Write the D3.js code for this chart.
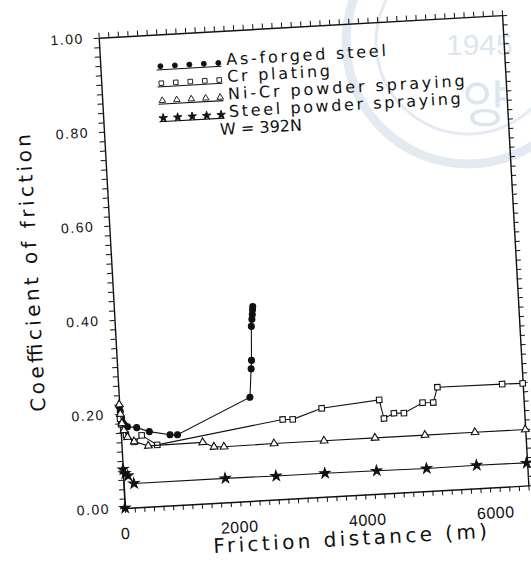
<!DOCTYPE html>
<html>
<head>
<meta charset="utf-8">
<script src="https://cdn.jsdelivr.net/npm/d3@7"></script>
<style>
body{margin:0;background:#fff;}
svg{display:block;}
.num{font-family:"Liberation Sans",Arial,sans-serif;fill:#111;}
.txt{font-family:"DejaVu Sans",sans-serif;fill:#111;}
</style>
</head>
<body>
<div id="chart"></div>
<script>
// data
const seriesNames = ['As-forged steel', 'Cr plating', 'Ni-Cr powder spraying', 'Steel powder spraying'];
const loadNote = 'W  =  392N';

const asForgedDist = [0, 10, 25, 45, 70, 110, 252, 445, 765, 881, 2042, 2085, 2098, 2125, 2140, 2150, 2158, 2165];
const asForgedCoef = [0.215, 0.205, 0.19, 0.18, 0.175, 0.172, 0.169, 0.159, 0.150, 0.149, 0.220, 0.280, 0.298, 0.370, 0.385, 0.395, 0.405, 0.412];

const crDist = [0, 15, 40, 80, 203, 323, 557, 2532, 2688, 3149, 4052, 4110, 4270, 4425, 4725, 4891, 4969, 5980, 6300];
const crCoef = [0.19, 0.178, 0.165, 0.155, 0.139, 0.152, 0.130, 0.169, 0.168, 0.188, 0.199, 0.159, 0.169, 0.168, 0.188, 0.187, 0.219, 0.218, 0.217];

const niCrDist = [0, 10, 25, 50, 100, 200, 417, 1267, 1439, 1594, 2376, 3157, 3953, 4733, 5514, 6300];
const niCrCoef = [0.22, 0.20, 0.18, 0.165, 0.15, 0.14, 0.129, 0.130, 0.119, 0.118, 0.119, 0.119, 0.119, 0.119, 0.119, 0.119];

const steelDist = [0, 5, 30, 75, 161, 1587, 2380, 3143, 3950, 4730, 5512, 6292];
const steelCoef = [0, 0.082, 0.073, 0.068, 0.051, 0.051, 0.050, 0.050, 0.049, 0.048, 0.049, 0.048];

const xTickLabels = [0, 2000, 4000, 6000];
const yTickLabels = [0, 0.2, 0.4, 0.6, 0.8, 1.0];

const w = 531, h = 563;
const plotW = 404, plotH = 471;
const origin = [125, 508];
const tilt = -3.2; // the scan is slightly rotated

const svg = d3.select('#chart').append('svg')
  .attr('width', w)
  .attr('height', h);

// faint watermark of the scan
const wm = svg.append('g').style('opacity', 0.45);
wm.append('circle').attr('cx', 468).attr('cy', 42).attr('r', 122)
  .attr('fill', 'none').attr('stroke', '#c3d1e3').attr('stroke-width', 9);
wm.append('circle').attr('cx', 468).attr('cy', 42).attr('r', 92)
  .attr('fill', 'none').attr('stroke', '#c3d1e3').attr('stroke-width', 3);
wm.append('text').attr('x', 446).attr('y', 55).text('1945')
  .style('font-family', 'Liberation Sans').style('font-size', '30px').style('fill', '#b4c6dc');
wm.append('text').attr('x', 462).attr('y', 122).text('양')
  .style('font-family', 'Noto Sans CJK KR').style('font-size', '50px').style('fill', '#b4c6dc');

const plot = svg.append('g')
  .attr('transform', `translate(${origin[0]},${origin[1]}) rotate(${tilt})`);

const x = d3.scaleLinear().domain([0, 6300]).range([0, plotW]);
const y = d3.scaleLinear().domain([0, 1]).range([0, -plotH]);

// axes, ticks on every side
const xMinor = d3.range(0, 6301, 150);
const yMinor = d3.range(0, 1.0001, 0.02);

function styleAxis(g){
  g.select('.domain').attr('stroke', '#111').attr('stroke-width', 1.4);
  g.selectAll('.tick line').attr('stroke', '#111').attr('stroke-width', 1);
}

plot.append('g')
  .call(d3.axisBottom(x).tickValues(xMinor).tickSize(5).tickSizeOuter(0).tickFormat(''))
  .call(styleAxis);
plot.append('g')
  .attr('transform', `translate(0,${-plotH})`)
  .call(d3.axisTop(x).tickValues(xMinor).tickSize(5).tickSizeOuter(0).tickFormat(''))
  .call(styleAxis);
plot.append('g')
  .call(d3.axisLeft(y).tickValues(yMinor).tickSize(5).tickSizeOuter(0).tickFormat(''))
  .call(styleAxis);
plot.append('g')
  .attr('transform', `translate(${plotW},0)`)
  .call(d3.axisRight(y).tickValues(yMinor).tickSize(5).tickSizeOuter(0).tickFormat(''))
  .call(styleAxis);

// tick labels
plot.selectAll('.xlab')
  .data(xTickLabels)
  .enter()
  .append('text')
  .attr('class', 'num')
  .attr('x', d => x(d) + 4)
  .attr('y', 31)
  .attr('text-anchor', 'end')
  .style('font-size', '16px')
  .style('letter-spacing', '0.5px')
  .text(d => d);

plot.selectAll('.ylab')
  .data(yTickLabels)
  .enter()
  .append('text')
  .attr('class', 'num')
  .attr('x', -15)
  .attr('y', d => y(d))
  .attr('dy', '0.35em')
  .attr('text-anchor', 'end')
  .style('font-size', '14px')
  .style('letter-spacing', '1.5px')
  .text(d => d3.format('.2f')(d));

// axis titles
plot.append('text')
  .attr('class', 'txt')
  .attr('x', x(3480))
  .attr('y', 50)
  .attr('text-anchor', 'middle')
  .attr('textLength', 274)
  .attr('lengthAdjust', 'spacing')
  .style('font-size', '20px')
  .text('Friction distance (m)');

plot.append('text')
  .attr('class', 'txt')
  .attr('transform', `translate(-74,${-240}) rotate(-90)`)
  .attr('text-anchor', 'middle')
  .attr('textLength', 278)
  .attr('lengthAdjust', 'spacing')
  .style('font-size', '20px')
  .text('Coefficient of friction');

// series
const series = [
  {dist: asForgedDist, coef: asForgedCoef, symbol: d3.symbolCircle, size: 28, fill: '#111'},
  {dist: crDist, coef: crCoef, symbol: d3.symbolSquare, size: 30, fill: '#fff'},
  {dist: niCrDist, coef: niCrCoef, symbol: d3.symbolTriangle, size: 26, fill: '#fff'},
  {dist: steelDist, coef: steelCoef, symbol: d3.symbolStar, size: 32, fill: '#111'}
];

const line = d3.line()
  .x(d => x(d[0]))
  .y(d => y(d[1]));

series.forEach(function(s){
  const pts = s.dist.map((d, i) => [d, s.coef[i]]);
  plot.append('path')
    .datum(pts)
    .attr('d', line)
    .attr('fill', 'none')
    .attr('stroke', '#111')
    .attr('stroke-width', 1.1);
  plot.selectAll(null)
    .data(pts)
    .enter()
    .append('path')
    .attr('transform', d => `translate(${x(d[0])},${y(d[1])})`)
    .attr('d', d3.symbol().type(s.symbol).size(s.size))
    .attr('fill', s.fill)
    .attr('stroke', '#111')
    .attr('stroke-width', 1.1);
});

// legend
const legRows = [436.6, 419.6, 402.2, 384.7];
const legWidths = [160, 103, 237, 232];
const legMarks = d3.range(5).map(i => 60 + i * 14.5);

series.forEach(function(s, i){
  const yy = -legRows[i];
  plot.append('line')
    .attr('x1', 56).attr('x2', 121)
    .attr('y1', yy + 1).attr('y2', yy + 1)
    .attr('stroke', '#111').attr('stroke-width', 1.1);
  plot.selectAll(null)
    .data(legMarks)
    .enter()
    .append('path')
    .attr('transform', d => `translate(${d},${yy - 2.5})`)
    .attr('d', d3.symbol().type(s.symbol).size(s.size * 0.7))
    .attr('fill', s.fill)
    .attr('stroke', '#111')
    .attr('stroke-width', 0.9);
  plot.append('text')
    .attr('class', 'txt')
    .attr('x', 126)
    .attr('y', yy)
    .attr('textLength', legWidths[i])
    .attr('lengthAdjust', 'spacing')
    .style('font-size', '16px')
    .text(seriesNames[i]);
});

plot.append('text')
  .attr('class', 'txt')
  .attr('x', 116)
  .attr('y', -367)
  .attr('textLength', 82)
  .attr('lengthAdjust', 'spacing')
  .style('font-size', '16px')
  .text(loadNote);
</script>
</body>
</html>
